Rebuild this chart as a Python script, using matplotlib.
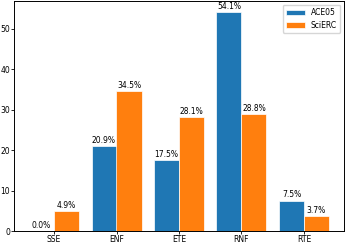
import numpy as np
import matplotlib
matplotlib.use("Agg")
import matplotlib.pyplot as plt

categories = ["SSE", "ENF", "ETE", "RNF", "RTE"]
ace05 = [0.0, 20.9, 17.5, 54.1, 7.5]
scierc = [4.9, 34.5, 28.1, 28.8, 3.7]

fig = plt.figure(figsize=(3.46, 2.43), dpi=100)
ax = fig.add_axes([14 / 346, 12 / 243, 330 / 346, 230 / 243])

x = np.arange(len(categories))
w = 0.4
b1 = ax.bar(x - w / 2, ace05, w, label="ACE05", color="#1f77b4",
            edgecolor="white", linewidth=0.5)
b2 = ax.bar(x + w / 2, scierc, w, label="SciERC", color="#ff7f0e",
            edgecolor="white", linewidth=0.5)

for bars, vals in ((b1, ace05), (b2, scierc)):
    for rect, v in zip(bars, vals):
        ax.annotate(f"{v:.1f}%", (rect.get_x() + rect.get_width() / 2, v),
                    xytext=(0, 1), textcoords="offset points",
                    ha="center", va="bottom", fontsize=5.5)

ax.set_xticks(x)
ax.set_xticklabels(categories)
ax.tick_params(labelsize=5.5, length=2, pad=0.8, width=0.6)
for s in ax.spines.values():
    s.set_linewidth(0.7)
ax.legend(fontsize=5.5, loc="upper right", handlelength=2.5)

fig.savefig("out.png", dpi=100)
